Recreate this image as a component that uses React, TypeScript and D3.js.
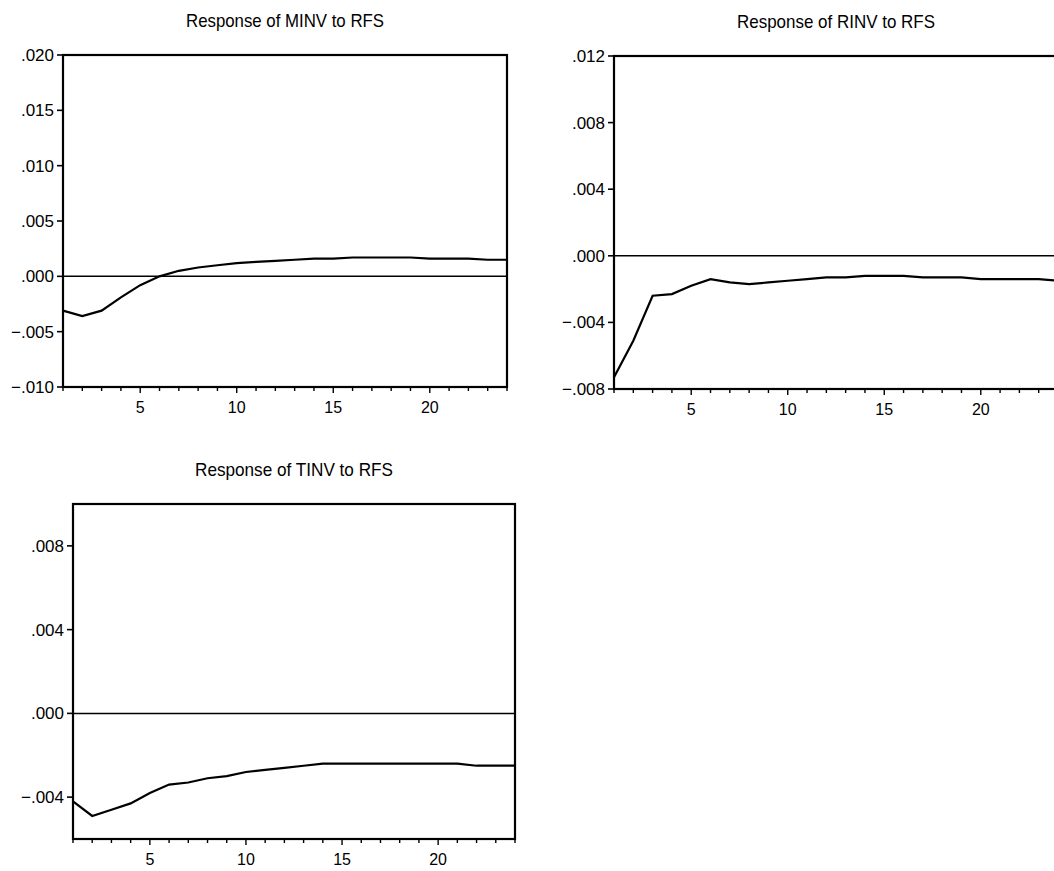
import * as d3 from "d3";

// impulse response periods
const periods = d3.range(1, 25);

const minvResp = [
  -0.0031, -0.0036, -0.0031, -0.0019, -0.0008, 0.0, 0.0005, 0.0008, 0.001, 0.0012, 0.0013, 0.0014,
  0.0015, 0.0016, 0.0016, 0.0017, 0.0017, 0.0017, 0.0017, 0.0016, 0.0016, 0.0016, 0.0015, 0.0015,
];
const rinvResp = [
  -0.0073, -0.0051, -0.0024, -0.0023, -0.0018, -0.0014, -0.0016, -0.0017, -0.0016, -0.0015, -0.0014,
  -0.0013, -0.0013, -0.0012, -0.0012, -0.0012, -0.0013, -0.0013, -0.0013, -0.0014, -0.0014, -0.0014,
  -0.0014, -0.0015,
];
const tinvResp = [
  -0.0042, -0.0049, -0.0046, -0.0043, -0.0038, -0.0034, -0.0033, -0.0031, -0.003, -0.0028, -0.0027,
  -0.0026, -0.0025, -0.0024, -0.0024, -0.0024, -0.0024, -0.0024, -0.0024, -0.0024, -0.0024, -0.0025,
  -0.0025, -0.0025,
];

const minvTicks = [-0.01, -0.005, 0, 0.005, 0.01, 0.015, 0.02];
const rinvTicks = [-0.008, -0.004, 0, 0.004, 0.008, 0.012];
const tinvTicks = [-0.004, 0, 0.004, 0.008];
const xTickLabels = [5, 10, 15, 20];

const fmt = (v: number) => d3.format(".3f")(v).replace("0.", ".");

const FONT = "'Liberation Sans', Arial, sans-serif";

type PanelProps = {
  title: string;
  values: number[];
  yDomain: [number, number];
  yTicks: number[];
  left: number;
  right: number;
  top: number;
  bottom: number;
};

const Panel = ({ title, values, yDomain, yTicks, left, right, top, bottom }: PanelProps) => {
  const x = d3.scaleLinear().domain([1, 24]).range([left, right]);
  const y = d3.scaleLinear().domain(yDomain).range([bottom, top]);
  const line = d3
    .line<number>()
    .x((_, i) => x(periods[i]))
    .y((d) => y(d));

  return (
    <g>
      <text
        x={(left + right) / 2}
        y={top - 28}
        textAnchor="middle"
        fontFamily={FONT}
        fontSize={19}
        textLength={198}
        lengthAdjust="spacingAndGlyphs"
        fill="#000"
      >
        {title}
      </text>
      {/* zero line */}
      <line x1={left} x2={right} y1={y(0)} y2={y(0)} stroke="#000" strokeWidth={1.5} />
      <path d={line(values) || ""} fill="none" stroke="#000" strokeWidth={2.2} />
      <rect
        x={left}
        y={top}
        width={right - left}
        height={bottom - top}
        fill="none"
        stroke="#000"
        strokeWidth={2.2}
      />
      {yTicks.map((t) => (
        <g key={t}>
          <line x1={left - 6} x2={left} y1={y(t)} y2={y(t)} stroke="#000" strokeWidth={1.6} />
          <text
            x={left - 9}
            y={y(t) + 6}
            textAnchor="end"
            fontFamily={FONT}
            fontSize={17}
            fill="#000"
          >
            {fmt(t)}
          </text>
        </g>
      ))}
      {periods.map((p) => (
        <line
          key={p}
          x1={x(p)}
          x2={x(p)}
          y1={bottom}
          y2={bottom + (p % 5 === 0 ? 6 : 4)}
          stroke="#000"
          strokeWidth={1.4}
        />
      ))}
      {xTickLabels.map((p) => (
        <text
          key={p}
          x={x(p)}
          y={bottom + 26}
          textAnchor="middle"
          fontFamily={FONT}
          fontSize={16}
          fill="#000"
        >
          {p}
        </text>
      ))}
    </g>
  );
};

export default function App() {
  return (
    <svg
      width={1054}
      height={871}
      style={{ position: "absolute", left: 0, top: 0, background: "#fff" }}
    >
      <Panel
        title="Response of MINV to RFS"
        values={minvResp}
        yDomain={[-0.01, 0.02]}
        yTicks={minvTicks}
        left={63}
        right={507}
        top={55}
        bottom={387}
      />
      <Panel
        title="Response of RINV to RFS"
        values={rinvResp}
        yDomain={[-0.008, 0.012]}
        yTicks={rinvTicks}
        left={614}
        right={1058}
        top={56}
        bottom={389}
      />
      <Panel
        title="Response of TINV to RFS"
        values={tinvResp}
        yDomain={[-0.006, 0.01]}
        yTicks={tinvTicks}
        left={73}
        right={515}
        top={504}
        bottom={839}
      />
    </svg>
  );
}
